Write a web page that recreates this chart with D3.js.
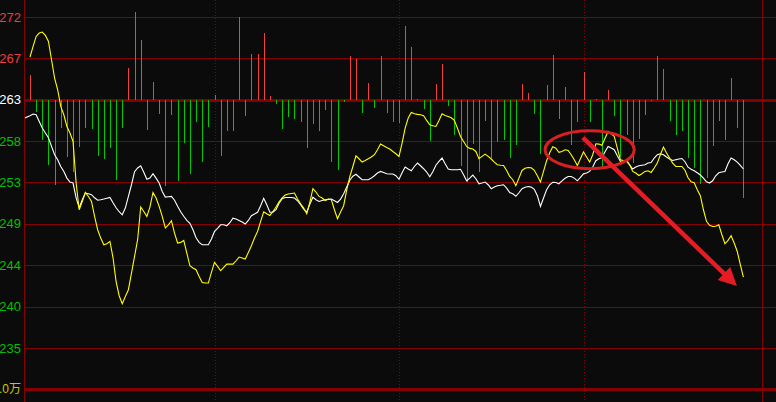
<!DOCTYPE html>
<html><head><meta charset="utf-8">
<script src="https://cdn.jsdelivr.net/npm/d3@7"></script>
<style>html,body{margin:0;padding:0;background:#0b0b0b;overflow:hidden}</style>
</head><body>
<svg id="c" width="776" height="402"></svg>
<script>
// ---------- data ----------
const gridPrices = [272.2, 267.6, 263.0, 258.4, 253.8, 249.2, 244.6, 240.0, 235.4];
const gridLabels = ["272", "267", "263", "258", "253", "249", "244", "240", "235"];
const refPrice = 263.0;
const volumeLine = 230.8;
const volumeLabel = "1.0万";
const hourMarks = [60, 120, 180];

// yellow line, one value per minute (minute = index)
const yellowLine = [
267.75,268.93,270.04,270.42,270.53,270.15,269.48,267.45,265.41,264.11,
262.26,261.33,260.03,259.30,258.36,253.74,250.77,251.69,252.69,252.25,
251.69,250.03,248.55,247.62,246.88,246.99,247.25,245.43,242.77,241.21,
240.32,241.13,241.88,243.73,245.58,247.44,251.07,250.58,250.03,251.07,
252.69,252.07,251.14,250.03,248.74,249.10,249.55,248.18,247.07,247.14,
247.36,245.96,244.54,244.29,244.10,243.35,242.69,242.62,242.62,243.80,
244.91,244.47,243.99,244.36,244.73,244.73,244.73,245.10,245.51,245.40,
245.29,246.02,246.77,247.62,248.36,249.47,250.55,250.33,250.14,250.58,
251.07,251.66,252.10,252.40,252.52,252.58,252.63,251.96,251.44,250.96,
250.33,251.58,253.11,252.74,252.25,252.07,251.80,251.96,251.88,250.77,
249.77,250.51,251.22,252.99,254.44,255.58,256.77,256.44,256.07,256.25,
256.44,256.63,256.89,257.44,258.07,257.89,257.70,257.52,257.25,257.00,
256.70,258.19,259.85,260.97,261.59,261.44,261.37,261.33,261.22,260.70,
260.22,260.11,260.03,260.70,261.44,261.26,261.14,261.00,260.70,259.85,
258.92,258.36,257.81,257.59,257.52,257.25,256.44,256.70,256.96,256.70,
256.41,256.07,255.77,255.72,255.70,255.14,254.47,254.11,253.44,254.29,
255.14,255.38,255.47,255.44,255.16,254.55,253.85,255.03,256.22,257.11,
257.78,257.61,257.16,257.25,257.44,257.36,256.89,256.33,255.70,256.44,
257.19,256.63,256.07,256.89,258.11,258.07,257.94,258.72,259.48,259.22,
258.92,257.63,256.33,256.25,256.14,255.77,255.03,254.85,254.58,254.77,
255.03,255.11,254.92,255.41,255.96,256.89,257.74,257.07,256.52,255.96,
255.58,255.58,255.58,255.16,254.33,253.88,253.77,252.99,252.33,250.77,
249.49,249.05,248.91,248.94,249.10,247.99,246.99,247.36,247.88,247.07,
246.13,244.66,243.29
];

// white line: value before the open, then one value per minute
const whitePreOpen = 260.94;
const whiteLine = [
261.22,261.41,261.33,260.59,259.85,259.30,258.78,257.81,256.89,256.33,
255.58,255.03,254.29,253.85,253.74,252.10,250.99,251.88,252.63,252.55,
252.44,252.10,251.83,251.88,251.96,252.05,252.14,251.55,250.99,250.55,
250.21,250.96,252.25,253.55,255.00,255.41,255.66,254.94,254.16,254.29,
254.77,254.29,253.74,252.80,252.18,252.22,252.25,251.83,251.16,250.55,
250.05,249.60,249.27,248.55,247.66,247.14,246.88,246.88,246.88,247.51,
248.36,248.71,249.10,249.10,248.99,249.33,249.83,249.74,249.58,249.40,
249.18,249.58,250.10,250.29,250.49,251.22,252.05,251.33,250.49,250.49,
250.77,251.49,251.99,252.14,252.14,252.14,252.07,251.77,251.33,250.85,
250.51,251.38,252.16,251.88,251.69,251.80,251.88,251.92,251.96,251.77,
251.58,251.96,252.55,253.29,254.05,254.50,254.72,254.41,254.11,254.11,
254.11,254.29,254.55,254.85,255.03,254.92,254.77,254.75,254.74,254.55,
254.16,254.88,255.52,255.30,255.11,255.58,255.96,255.66,255.33,254.96,
254.44,255.00,255.72,256.14,256.52,255.88,255.30,255.22,255.22,255.22,
255.27,254.66,253.99,254.29,254.63,254.22,253.66,253.74,253.85,253.55,
253.11,253.29,253.44,253.49,253.55,253.18,252.69,252.55,252.27,252.66,
253.11,253.27,253.36,253.29,253.05,252.33,251.14,252.07,252.99,253.55,
253.83,253.80,253.66,253.99,254.27,254.47,254.47,254.29,253.99,254.36,
254.77,254.85,255.03,255.52,256.22,256.44,256.57,257.22,257.81,257.63,
257.44,256.77,256.14,256.20,256.25,255.77,255.30,255.52,255.66,255.72,
255.77,255.96,256.03,256.52,256.89,257.00,256.89,256.63,256.41,256.25,
256.33,256.41,256.47,256.11,255.50,255.27,255.11,254.88,254.63,254.29,
253.88,253.74,253.99,254.55,254.88,254.96,255.03,255.88,256.52,256.33,
256.07,255.70,255.30
];

// buy/sell bars, one every two minutes (positive = up/red, negative = down/green)
const barValues = [
 25,-12,-40,-65,-85,-28,-57,-72,-47,-28,
-29,-56,-59,-48,-80,-28, 32, 88, 60,-30,
 18,-14,-86,-15,-81,-43,-74,-22,-62,-27,
  5,-56,-31,-31, 83,-16, 46, 46, 67,  4,
 -4,-29,-17,-19,-22,-48,-24,-31,-10,-62,
-70, -2, 44, 41,-13, 17, -8, 44,-13,-22,
-23, 74, 53,  1, -9,-41, 16, 36, -6,-35,
-66,-82,-44,-72,-21,-58,-42,-40,-58,-45,
 16,  7,-14,-54, 15, 45,-19, 13,-45,-22,
 28,-22,  1,-67, 10,-16,-57,-35,-63,-39,
-15, -1, 44, 31,-21,-35,-31,-58,-68,-84,
-78,-46,-21,-40, 22,-28,-98
];

// annotation (in minute / price units)
const ellipseNote = {minute: 182, price: 257.44, rMinutes: 14.5, rPrice: 2.1};
const arrowNote = {fromMinute: 179.8, fromPrice: 258.8, toMinute: 229.9, toPrice: 242.3};

// ---------- chart ----------
const W = 776, H = 402;
const svg = d3.select("#c");
const plotLeft = 24, plotRight = 762, plotBottom = 390;

svg.append("rect").attr("width", W).attr("height", H).attr("fill", "#0b0b0b");

const x = d3.scaleLinear().domain([0, 240]).range([30, 768]);
const y = d3.scaleLinear().domain([235.4, 272.2]).range([348, 17]);
const barY = d3.scaleLinear().domain([0, 100]).range([y(refPrice), y(refPrice) - 100]);

const gridColor = "#850000";

// horizontal grid
const allGrid = gridPrices.concat([volumeLine]);
svg.append("g").selectAll("line").data(allGrid).join("line")
  .attr("x1", plotLeft).attr("x2", W)
  .attr("y1", d => Math.round(y(d)) + 0.5).attr("y2", d => Math.round(y(d)) + 0.5)
  .attr("stroke", gridColor)
  .attr("stroke-width", d => (d === refPrice || d === volumeLine) ? 2.5 : 1)
  .attr("shape-rendering", "crispEdges");

// hour dotted lines
svg.append("g").selectAll("line").data(hourMarks).join("line")
  .attr("x1", d => Math.round(x(d)) + 0.5).attr("x2", d => Math.round(x(d)) + 0.5)
  .attr("y1", 0).attr("y2", H)
  .attr("stroke", "#8a0000").attr("stroke-width", 1)
  .attr("stroke-dasharray", "1,2")
  .attr("shape-rendering", "crispEdges");

// frame verticals
svg.append("line").attr("x1", plotLeft + 0.5).attr("x2", plotLeft + 0.5).attr("y1", 0).attr("y2", H)
  .attr("stroke", gridColor).attr("stroke-width", 1.5).attr("shape-rendering", "crispEdges");
svg.append("line").attr("x1", plotRight + 0.5).attr("x2", plotRight + 0.5).attr("y1", 0).attr("y2", H)
  .attr("stroke", gridColor).attr("stroke-width", 1).attr("shape-rendering", "crispEdges");

// price labels
svg.append("g").selectAll("text").data(gridPrices).join("text")
  .attr("x", 21).attr("y", d => y(d))
  .attr("text-anchor", "end").attr("dominant-baseline", "central")
  .attr("font-family", "'Liberation Sans', Arial, sans-serif").attr("font-size", 13)
  .attr("fill", d => d > refPrice ? "#f03c3c" : (d === refPrice ? "#ffffff" : "#00c000"))
  .text((d, i) => gridLabels[i]);
svg.append("text").attr("x", 21).attr("y", y(volumeLine))
  .attr("text-anchor", "end").attr("dominant-baseline", "central")
  .attr("font-family", "'Liberation Sans', 'Noto Sans CJK SC', Arial, sans-serif").attr("font-size", 12)
  .attr("fill", "#c8c800").text(volumeLabel);

// clip
svg.append("clipPath").attr("id", "clip").append("rect")
  .attr("x", plotLeft + 1).attr("y", 0).attr("width", plotRight - plotLeft - 1).attr("height", plotBottom);
const plot = svg.append("g").attr("clip-path", "url(#clip)");

// bars
plot.append("g").selectAll("line").data(barValues).join("line")
  .attr("x1", (d, i) => Math.round(x(2 * i)) + 0.5)
  .attr("x2", (d, i) => Math.round(x(2 * i)) + 0.5)
  .attr("y1", barY(0))
  .attr("y2", d => barY(d))
  .attr("stroke", d => d >= 0 ? "#f04040" : "#00c800")
  .attr("stroke-width", 1)
  .attr("shape-rendering", "crispEdges");

// lines
const line = d3.line().x(d => x(d[0])).y(d => y(d[1]));
const whiteData = [[-2, whitePreOpen]].concat(whiteLine.map((v, i) => [i, v]));
const yellowData = yellowLine.map((v, i) => [i, v]);
plot.append("path").attr("d", line(whiteData)).attr("fill", "none")
  .attr("stroke", "#ffffff").attr("stroke-width", 1.1);
plot.append("path").attr("d", line(yellowData)).attr("fill", "none")
  .attr("stroke", "#ffff00").attr("stroke-width", 1.1);

// annotation ellipse
const ecx = x(ellipseNote.minute), ecy = y(ellipseNote.price);
const erx = x(ellipseNote.minute + ellipseNote.rMinutes) - ecx;
const ery = y(ellipseNote.price - ellipseNote.rPrice) - ecy;
svg.append("ellipse").attr("cx", ecx).attr("cy", ecy).attr("rx", erx).attr("ry", ery)
  .attr("fill", "none").attr("stroke", "#d82020").attr("stroke-width", 3);

// annotation arrow
const ax1 = x(arrowNote.fromMinute), ay1 = y(arrowNote.fromPrice);
const ax2 = x(arrowNote.toMinute), ay2 = y(arrowNote.toPrice);
const len = Math.hypot(ax2 - ax1, ay2 - ay1);
const ux = (ax2 - ax1) / len, uy = (ay2 - ay1) / len;
const headL = 18, headW = 9;
const bx = ax2 - ux * headL, by = ay2 - uy * headL;
svg.append("line").attr("x1", ax1).attr("y1", ay1).attr("x2", bx + ux * 2).attr("y2", by + uy * 2)
  .attr("stroke", "#e61c24").attr("stroke-width", 4.5);
svg.append("polygon")
  .attr("points", [[ax2, ay2], [bx - uy * headW, by + ux * headW], [bx + uy * headW, by - ux * headW]].map(p => p.join(",")).join(" "))
  .attr("fill", "#e61c24");
</script>
</body></html>
